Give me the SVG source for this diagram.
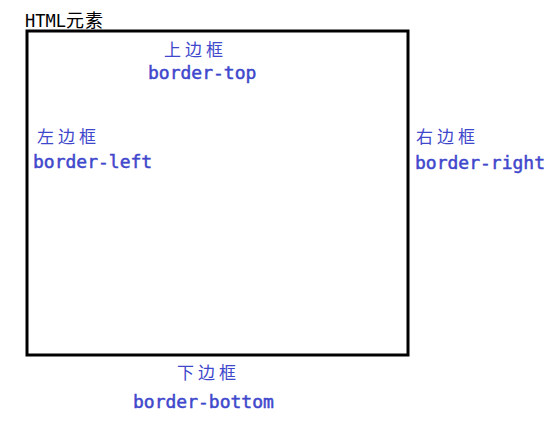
<svg xmlns="http://www.w3.org/2000/svg" width="557" height="429" viewBox="0 0 557 429">
<style>
.cn{font-family:"Noto Sans CJK SC","Liberation Sans",sans-serif;font-size:17px;fill:#3f48cc;letter-spacing:4px}
.en{font-family:"DejaVu Sans Mono","Liberation Mono",monospace;font-size:18px;fill:#3f48cc;stroke:#3f48cc;stroke-width:0.5}
</style>
<rect width="557" height="429" fill="#ffffff"/>
<g id="element">
<text x="25" y="27" font-family="DejaVu Sans Mono,'Noto Sans CJK SC',monospace" font-size="17" fill="#000">HTML<tspan font-family="Noto Sans CJK SC,sans-serif" font-size="18" letter-spacing="1">元素</tspan></text>
<rect x="27" y="31" width="381" height="324" fill="none" stroke="#000" stroke-width="3"/>
</g>
<g id="top">
<text class="cn" x="164" y="56">上边框</text>
<text class="en" x="148" y="79">border-top</text>
</g>
<g id="left">
<text class="cn" x="37" y="143">左边框</text>
<text class="en" x="33" y="168">border-left</text>
</g>
<g id="right">
<text class="cn" x="416" y="143">右边框</text>
<text class="en" x="415" y="169">border-right</text>
</g>
<g id="bottom">
<text class="cn" x="177" y="379">下边框</text>
<text class="en" x="133" y="408">border-bottom</text>
</g>
<g id="connectors"/>
</svg>
